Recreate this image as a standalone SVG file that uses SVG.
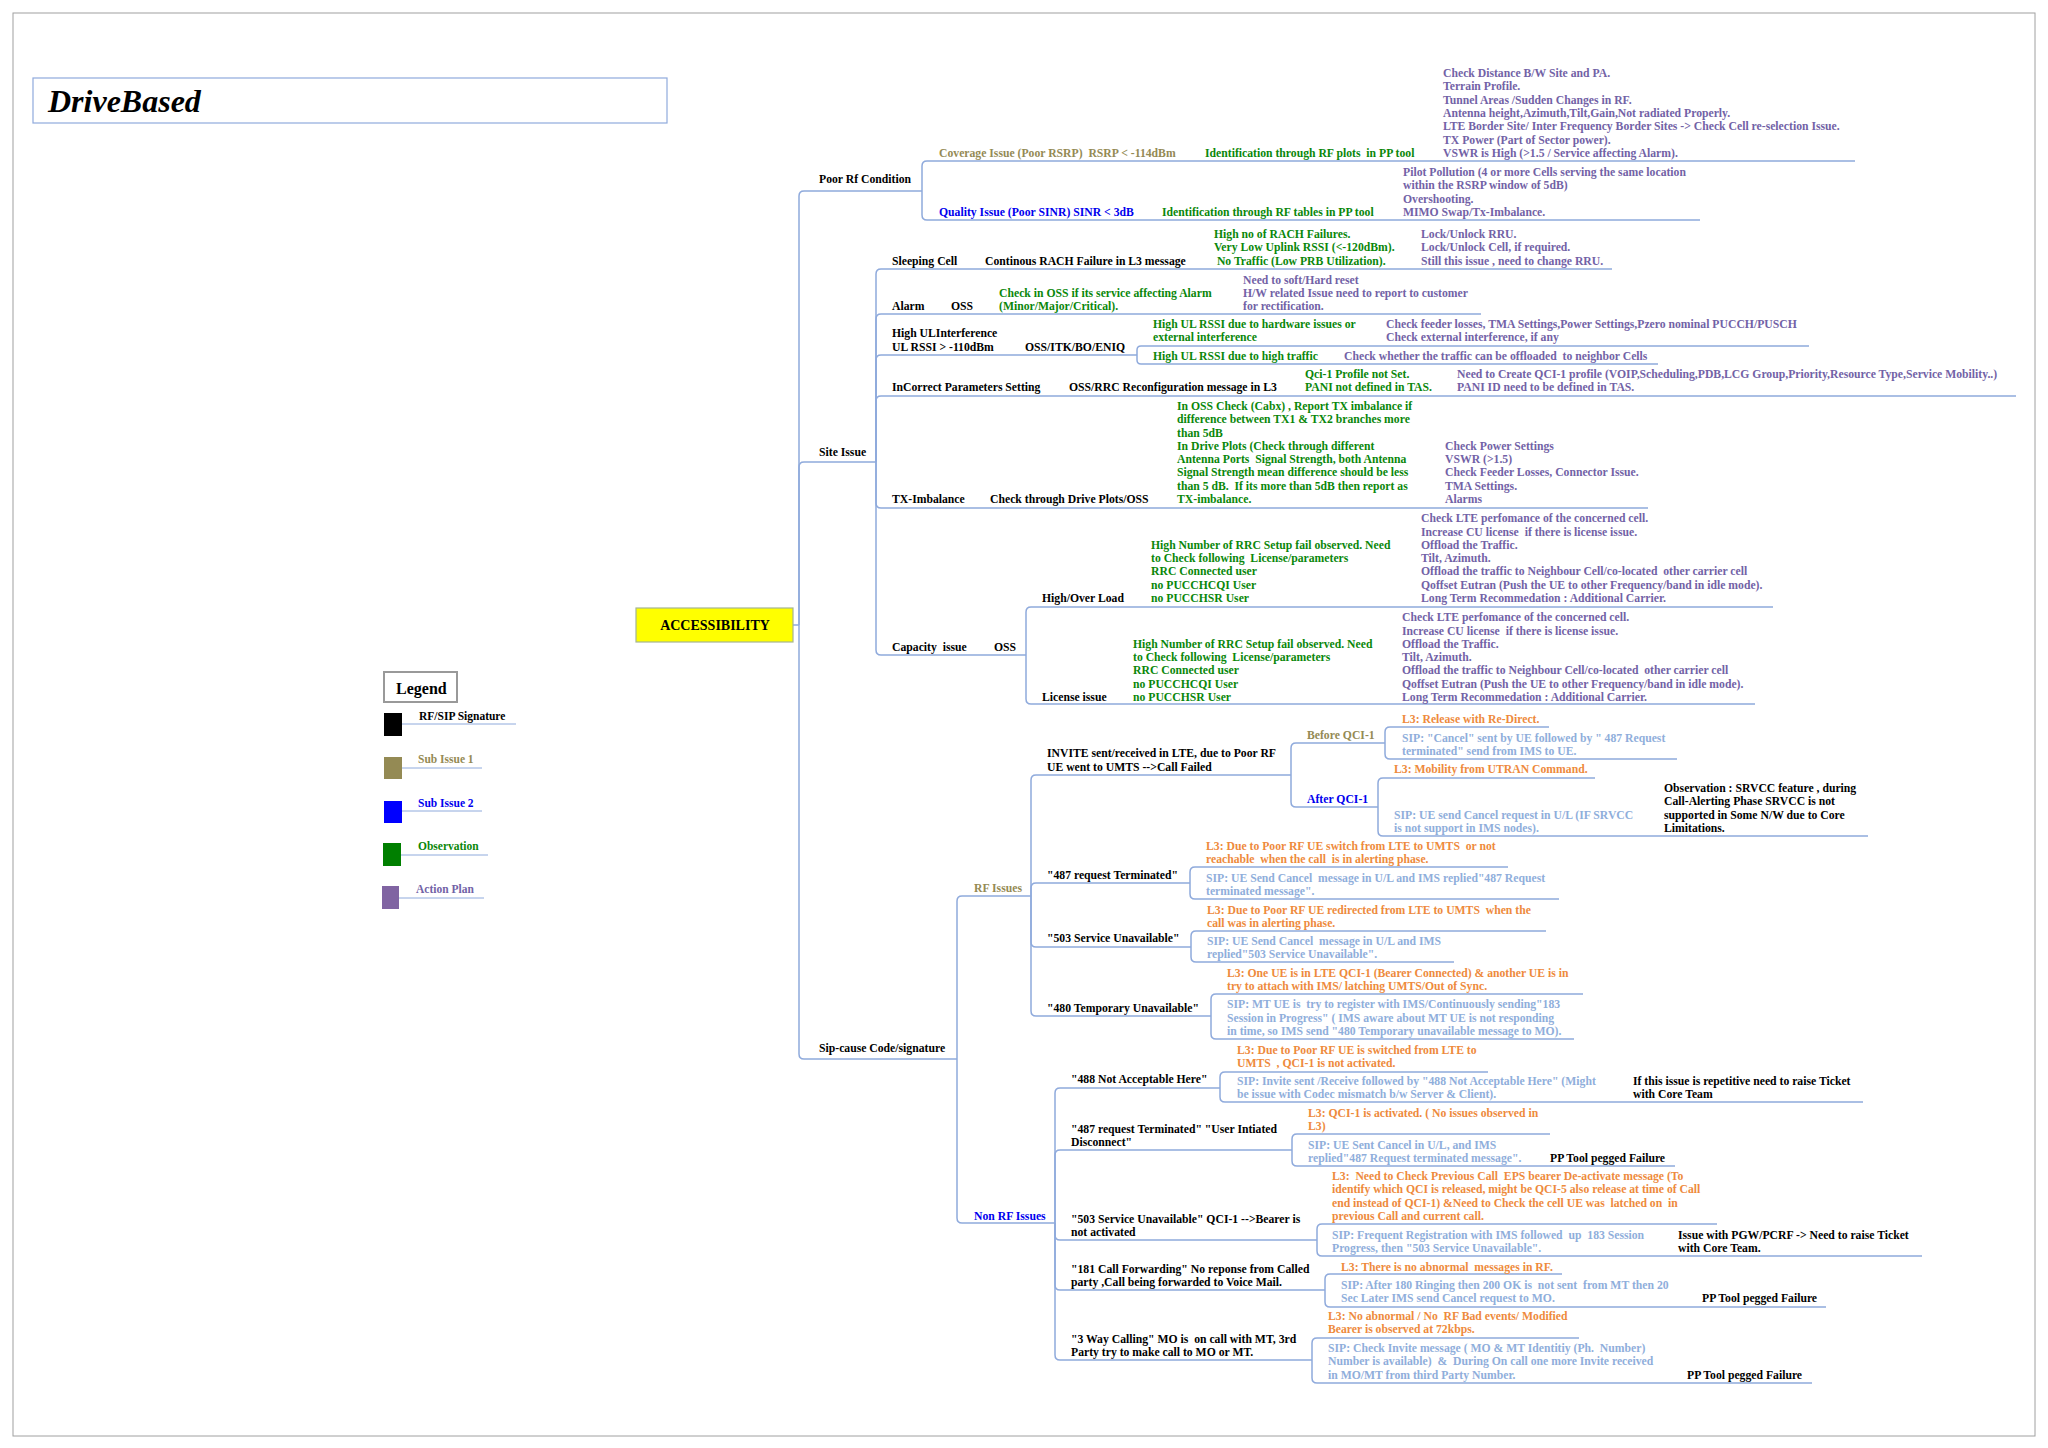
<svg xmlns="http://www.w3.org/2000/svg" width="2048" height="1448" viewBox="0 0 2048 1448" xml:space="preserve">
<style>
text{font-family:"Liberation Serif","Times New Roman",serif;font-weight:bold;font-size:11.7px;white-space:pre}
.k{fill:#000}.o{fill:#948A54}.b{fill:#0000EE}.g{fill:#0A870A}.p{fill:#7262A6}.r{fill:#EE8A3C}.s{fill:#8FAEDB}
.c path{fill:none;stroke:#8FAADC;stroke-width:1.5}
</style>
<rect x="0" y="0" width="2048" height="1448" fill="#fff"/>
<rect x="13" y="13" width="2022" height="1423" fill="none" stroke="#A0A0A0" stroke-width="1"/>

<g id="title">
<rect x="33" y="78" width="634" height="45" fill="#fff" stroke="#8FAADC" stroke-width="1.2"/>
<text x="48" y="112" style="font-size:32px;font-style:italic" class="k">DriveBased</text>
</g>

<g id="legend">
<rect x="384" y="672" width="73" height="30" fill="#fff" stroke="#999" stroke-width="2"/>
<text x="396" y="694" style="font-size:16px" class="k">Legend</text>
<g id="leg-rfsip"><rect x="384" y="713" width="18" height="23" fill="#000"/><path d="M402,724 H516" stroke="#8FAADC" fill="none"/><text x="419" y="720" style="font-size:11.5px" class="k">RF/SIP Signature</text></g>
<g id="leg-sub1"><rect x="384" y="757" width="18" height="22" fill="#948A54"/><path d="M402,768 H482" stroke="#8FAADC" fill="none"/><text x="418" y="763" style="font-size:11.5px" class="o">Sub Issue 1</text></g>
<g id="leg-sub2"><rect x="384" y="801" width="18" height="22" fill="#0000FF"/><path d="M402,811 H482" stroke="#8FAADC" fill="none"/><text x="418" y="807" style="font-size:11.5px" class="b">Sub Issue 2</text></g>
<g id="leg-obs"><rect x="383" y="843" width="18" height="23" fill="#007F00"/><path d="M401,855 H488" stroke="#8FAADC" fill="none"/><text x="418" y="850" style="font-size:11.5px" class="g">Observation</text></g>
<g id="leg-act"><rect x="382" y="886" width="17" height="23" fill="#8064A2"/><path d="M399,898 H484" stroke="#8FAADC" fill="none"/><text x="416" y="893" style="font-size:11.5px" class="p">Action Plan</text></g>
</g>

<g class="c" id="connectors">
<path d="M793,625 H799"/>
<path d="M799,625 V196 Q799,191 804,191 H922"/>
<path d="M799,625 V467 Q799,462 804,462 H876"/>
<path d="M799,625 V1054 Q799,1059 804,1059 H957"/>
<path d="M922,191 V166 Q922,161 927,161 H1855"/>
<path d="M922,191 V215 Q922,220 927,220 H1700"/>
<path d="M876,462 V274 Q876,269 881,269 H1612"/>
<path d="M876,462 V319 Q876,314 881,314 H1481"/>
<path d="M876,462 V360 Q876,355 881,355 H1137"/>
<path d="M876,462 V401 Q876,396 881,396 H2016"/>
<path d="M876,462 V503 Q876,508 881,508 H1648"/>
<path d="M876,462 V650 Q876,655 881,655 H1026"/>
<path d="M1137,355 V350 Q1137,346 1141,346 H1809"/>
<path d="M1137,355 V360 Q1137,364 1141,364 H1658"/>
<path d="M1026,655 V612 Q1026,607 1031,607 H1773"/>
<path d="M1026,655 V699 Q1026,704 1031,704 H1755"/>
<path d="M957,1059 V901 Q957,896 962,896 H1031"/>
<path d="M957,1059 V1218 Q957,1223 962,1223 H1055"/>
<path d="M1031,896 V780 Q1031,775 1036,775 H1291"/>
<path d="M1031,896 V888 Q1031,883 1036,883 H1190"/>
<path d="M1031,896 V942 Q1031,947 1036,947 H1191"/>
<path d="M1031,896 V1011 Q1031,1016 1036,1016 H1211"/>
<path d="M1291,775 V748 Q1291,743 1296,743 H1385"/>
<path d="M1291,775 V802 Q1291,807 1296,807 H1378"/>
<path d="M1385,743 V732 Q1385,727 1390,727 H1549"/>
<path d="M1385,743 V754 Q1385,759 1390,759 H1677"/>
<path d="M1378,807 V783 Q1378,778 1383,778 H1595"/>
<path d="M1378,807 V831 Q1378,836 1383,836 H1868"/>
<path d="M1190,883 V872 Q1190,867 1195,867 H1508"/>
<path d="M1190,883 V894 Q1190,899 1195,899 H1559"/>
<path d="M1191,947 V936 Q1191,931 1196,931 H1546"/>
<path d="M1191,947 V957 Q1191,962 1196,962 H1454"/>
<path d="M1211,1016 V999 Q1211,994 1216,994 H1583"/>
<path d="M1211,1016 V1034 Q1211,1039 1216,1039 H1574"/>
<path d="M1055,1223 V1093 Q1055,1088 1060,1088 H1220"/>
<path d="M1055,1223 V1155 Q1055,1150 1060,1150 H1292"/>
<path d="M1055,1223 V1235 Q1055,1240 1060,1240 H1317"/>
<path d="M1055,1223 V1285 Q1055,1290 1060,1290 H1325"/>
<path d="M1055,1223 V1355 Q1055,1360 1060,1360 H1312"/>
<path d="M1220,1088 V1077 Q1220,1072 1225,1072 H1488"/>
<path d="M1220,1088 V1097 Q1220,1102 1225,1102 H1863"/>
<path d="M1292,1150 V1139 Q1292,1134 1297,1134 H1550"/>
<path d="M1292,1150 V1161 Q1292,1166 1297,1166 H1675"/>
<path d="M1317,1240 V1229 Q1317,1224 1322,1224 H1717"/>
<path d="M1317,1240 V1251 Q1317,1256 1322,1256 H1922"/>
<path d="M1325,1290 V1279 Q1325,1274 1330,1274 H1562"/>
<path d="M1325,1290 V1302 Q1325,1307 1330,1307 H1826"/>
<path d="M1312,1360 V1343 Q1312,1338 1317,1338 H1579"/>
<path d="M1312,1360 V1378 Q1312,1383 1317,1383 H1812"/>
</g>

<g id="root">
<rect x="636" y="608" width="157" height="34" fill="#FFFF00" stroke="#A5B592" stroke-width="1.2"/>
<text x="715" y="630" text-anchor="middle" style="font-size:14px" class="k">ACCESSIBILITY</text>
</g>

<g id="poor-rf">
<text x="819" y="183" class="k">Poor Rf Condition</text>
</g>
<g id="coverage">
<text x="939" y="157" class="o">Coverage Issue (Poor RSRP)  RSRP &lt; -114dBm</text>
<text x="1205" y="157" class="g">Identification through RF plots  in PP tool</text>
<text class="p"><tspan x="1443" y="77">Check Distance B/W Site and PA.</tspan><tspan x="1443" y="90.3">Terrain Profile.</tspan><tspan x="1443" y="103.6">Tunnel Areas /Sudden Changes in RF.</tspan><tspan x="1443" y="116.9">Antenna height,Azimuth,Tilt,Gain,Not radiated Properly.</tspan><tspan x="1443" y="130.2">LTE Border Site/ Inter Frequency Border Sites -&gt; Check Cell re-selection Issue.</tspan><tspan x="1443" y="143.5">TX Power (Part of Sector power).</tspan><tspan x="1443" y="156.8">VSWR is High (&gt;1.5 / Service affecting Alarm).</tspan></text>
</g>
<g id="quality">
<text x="939" y="216" class="b">Quality Issue (Poor SINR) SINR &lt; 3dB</text>
<text x="1162" y="216" class="g">Identification through RF tables in PP tool</text>
<text class="p"><tspan x="1403" y="176">Pilot Pollution (4 or more Cells serving the same location</tspan><tspan x="1403" y="189.3">within the RSRP window of 5dB)</tspan><tspan x="1403" y="202.6">Overshooting.</tspan><tspan x="1403" y="215.9">MIMO Swap/Tx-Imbalance.</tspan></text>
</g>

<g id="site-issue">
<text x="819" y="456" class="k">Site Issue</text>
</g>
<g id="sleeping-cell">
<text x="892" y="265" class="k">Sleeping Cell</text>
<text x="985" y="265" class="k">Continous RACH Failure in L3 message</text>
<text class="g"><tspan x="1214" y="238">High no of RACH Failures.</tspan><tspan x="1214" y="251.3">Very Low Uplink RSSI (&lt;-120dBm).</tspan><tspan x="1214" y="264.6"> No Traffic (Low PRB Utilization).</tspan></text>
<text class="p"><tspan x="1421" y="238">Lock/Unlock RRU.</tspan><tspan x="1421" y="251.3">Lock/Unlock Cell, if required.</tspan><tspan x="1421" y="264.6">Still this issue , need to change RRU.</tspan></text>
</g>
<g id="alarm">
<text x="892" y="310" class="k">Alarm</text>
<text x="951" y="310" class="k">OSS</text>
<text class="g"><tspan x="999" y="297">Check in OSS if its service affecting Alarm</tspan><tspan x="999" y="310.3">(Minor/Major/Critical).</tspan></text>
<text class="p"><tspan x="1243" y="283.5">Need to soft/Hard reset</tspan><tspan x="1243" y="296.8">H/W related Issue need to report to customer</tspan><tspan x="1243" y="310.1">for rectification.</tspan></text>
</g>
<g id="high-ul">
<text class="k"><tspan x="892" y="337">High ULInterference</tspan><tspan x="892" y="351">UL RSSI &gt; -110dBm</tspan></text>
<text x="1025" y="351" class="k">OSS/ITK/BO/ENIQ</text>
<text class="g"><tspan x="1153" y="328">High UL RSSI due to hardware issues or</tspan><tspan x="1153" y="341.3">external interference</tspan></text>
<text class="p"><tspan x="1386" y="328">Check feeder losses, TMA Settings,Power Settings,Pzero nominal PUCCH/PUSCH</tspan><tspan x="1386" y="341.3">Check external interference, if any</tspan></text>
<text x="1153" y="360" class="g">High UL RSSI due to high traffic</text>
<text x="1344" y="360" class="p">Check whether the traffic can be offloaded  to neighbor Cells</text>
</g>
<g id="incorrect-params">
<text x="892" y="391" class="k">InCorrect Parameters Setting</text>
<text x="1069" y="391" class="k">OSS/RRC Reconfiguration message in L3</text>
<text class="g"><tspan x="1305" y="378">Qci-1 Profile not Set.</tspan><tspan x="1305" y="391.3">PANI not defined in TAS.</tspan></text>
<text class="p"><tspan x="1457" y="378">Need to Create QCI-1 profile (VOIP,Scheduling,PDB,LCG Group,Priority,Resource Type,Service Mobility..)</tspan><tspan x="1457" y="391.3">PANI ID need to be defined in TAS.</tspan></text>
</g>
<g id="tx-imbalance">
<text x="892" y="503" class="k">TX-Imbalance</text>
<text x="990" y="503" class="k">Check through Drive Plots/OSS</text>
<text class="g"><tspan x="1177" y="409.9">In OSS Check (Cabx) , Report TX imbalance if</tspan><tspan x="1177" y="423.2">difference between TX1 &amp; TX2 branches more</tspan><tspan x="1177" y="436.5">than 5dB</tspan><tspan x="1177" y="449.8">In Drive Plots (Check through different</tspan><tspan x="1177" y="463.1">Antenna Ports  Signal Strength, both Antenna</tspan><tspan x="1177" y="476.4">Signal Strength mean difference should be less</tspan><tspan x="1177" y="489.7">than 5 dB.  If its more than 5dB then report as</tspan><tspan x="1177" y="503">TX-imbalance.</tspan></text>
<text class="p"><tspan x="1445" y="449.8">Check Power Settings</tspan><tspan x="1445" y="463.1">VSWR (&gt;1.5)</tspan><tspan x="1445" y="476.4">Check Feeder Losses, Connector Issue.</tspan><tspan x="1445" y="489.7">TMA Settings.</tspan><tspan x="1445" y="503">Alarms</tspan></text>
</g>
<g id="capacity">
<text x="892" y="651" class="k">Capacity  issue</text>
<text x="994" y="651" class="k">OSS</text>
</g>
<g id="high-over-load">
<text x="1042" y="602" class="k">High/Over Load</text>
<text class="g"><tspan x="1151" y="548.8">High Number of RRC Setup fail observed. Need</tspan><tspan x="1151" y="562.1">to Check following  License/parameters</tspan><tspan x="1151" y="575.4">RRC Connected user</tspan><tspan x="1151" y="588.7">no PUCCHCQI User</tspan><tspan x="1151" y="602">no PUCCHSR User</tspan></text>
<text class="p"><tspan x="1421" y="522.2">Check LTE perfomance of the concerned cell.</tspan><tspan x="1421" y="535.5">Increase CU license  if there is license issue.</tspan><tspan x="1421" y="548.8">Offload the Traffic.</tspan><tspan x="1421" y="562.1">Tilt, Azimuth.</tspan><tspan x="1421" y="575.4">Offload the traffic to Neighbour Cell/co-located  other carrier cell</tspan><tspan x="1421" y="588.7">Qoffset Eutran (Push the UE to other Frequency/band in idle mode).</tspan><tspan x="1421" y="602">Long Term Recommedation : Additional Carrier.</tspan></text>
</g>
<g id="license-issue">
<text x="1042" y="701" class="k">License issue</text>
<text class="g"><tspan x="1133" y="647.8">High Number of RRC Setup fail observed. Need</tspan><tspan x="1133" y="661.1">to Check following  License/parameters</tspan><tspan x="1133" y="674.4">RRC Connected user</tspan><tspan x="1133" y="687.7">no PUCCHCQI User</tspan><tspan x="1133" y="701">no PUCCHSR User</tspan></text>
<text class="p"><tspan x="1402" y="621.2">Check LTE perfomance of the concerned cell.</tspan><tspan x="1402" y="634.5">Increase CU license  if there is license issue.</tspan><tspan x="1402" y="647.8">Offload the Traffic.</tspan><tspan x="1402" y="661.1">Tilt, Azimuth.</tspan><tspan x="1402" y="674.4">Offload the traffic to Neighbour Cell/co-located  other carrier cell</tspan><tspan x="1402" y="687.7">Qoffset Eutran (Push the UE to other Frequency/band in idle mode).</tspan><tspan x="1402" y="701">Long Term Recommedation : Additional Carrier.</tspan></text>
</g>

<g id="sip-cause">
<text x="819" y="1052" class="k">Sip-cause Code/signature</text>
</g>
<g id="rf-issues">
<text x="974" y="892" class="o">RF Issues</text>
</g>
<g id="invite">
<text class="k"><tspan x="1047" y="757">INVITE sent/received in LTE, due to Poor RF</tspan><tspan x="1047" y="770.5">UE went to UMTS --&gt;Call Failed</tspan></text>
</g>
<g id="before-qci1">
<text x="1307" y="739" class="o">Before QCI-1</text>
<text x="1402" y="723" class="r">L3: Release with Re-Direct.</text>
<text class="s"><tspan x="1402" y="742">SIP: "Cancel" sent by UE followed by " 487 Request</tspan><tspan x="1402" y="755.3">terminated" send from IMS to UE.</tspan></text>
</g>
<g id="after-qci1">
<text x="1307" y="803" class="b">After QCI-1</text>
<text x="1394" y="773" class="r">L3: Mobility from UTRAN Command.</text>
<text class="s"><tspan x="1394" y="818.5">SIP: UE send Cancel request in U/L (IF SRVCC</tspan><tspan x="1394" y="831.8">is not support in IMS nodes).</tspan></text>
<text class="k"><tspan x="1664" y="792">Observation : SRVCC feature , during</tspan><tspan x="1664" y="805.3">Call-Alerting Phase SRVCC is not</tspan><tspan x="1664" y="818.6">supported in Some N/W due to Core</tspan><tspan x="1664" y="831.9">Limitations.</tspan></text>
</g>
<g id="rf-487">
<text x="1047" y="879" class="k">"487 request Terminated"</text>
<text class="r"><tspan x="1206" y="850">L3: Due to Poor RF UE switch from LTE to UMTS  or not</tspan><tspan x="1206" y="863.3">reachable  when the call  is in alerting phase.</tspan></text>
<text class="s"><tspan x="1206" y="881.5">SIP: UE Send Cancel  message in U/L and IMS replied"487 Request</tspan><tspan x="1206" y="894.8">terminated message".</tspan></text>
</g>
<g id="rf-503">
<text x="1047" y="942" class="k">"503 Service Unavailable"</text>
<text class="r"><tspan x="1207" y="913.5">L3: Due to Poor RF UE redirected from LTE to UMTS  when the</tspan><tspan x="1207" y="926.8">call was in alerting phase.</tspan></text>
<text class="s"><tspan x="1207" y="945">SIP: UE Send Cancel  message in U/L and IMS</tspan><tspan x="1207" y="958.3">replied"503 Service Unavailable".</tspan></text>
</g>
<g id="rf-480">
<text x="1047" y="1012" class="k">"480 Temporary Unavailable"</text>
<text class="r"><tspan x="1227" y="977">L3: One UE is in LTE QCI-1 (Bearer Connected) &amp; another UE is in</tspan><tspan x="1227" y="990.3">try to attach with IMS/ latching UMTS/Out of Sync.</tspan></text>
<text class="s"><tspan x="1227" y="1008.4">SIP: MT UE is  try to register with IMS/Continuously sending"183</tspan><tspan x="1227" y="1021.7">Session in Progress" ( IMS aware about MT UE is not responding</tspan><tspan x="1227" y="1035">in time, so IMS send "480 Temporary unavailable message to MO).</tspan></text>
</g>
<g id="non-rf-issues">
<text x="974" y="1220" class="b">Non RF Issues</text>
</g>
<g id="nrf-488">
<text x="1071" y="1083" class="k">"488 Not Acceptable Here"</text>
<text class="r"><tspan x="1237" y="1053.5">L3: Due to Poor RF UE is switched from LTE to</tspan><tspan x="1237" y="1066.8">UMTS  , QCI-1 is not activated.</tspan></text>
<text class="s"><tspan x="1237" y="1085">SIP: Invite sent /Receive followed by "488 Not Acceptable Here" (Might</tspan><tspan x="1237" y="1098.3">be issue with Codec mismatch b/w Server &amp; Client).</tspan></text>
<text class="k"><tspan x="1633" y="1085">If this issue is repetitive need to raise Ticket</tspan><tspan x="1633" y="1098.3">with Core Team</tspan></text>
</g>
<g id="nrf-487">
<text class="k"><tspan x="1071" y="1133">"487 request Terminated" "User Intiated</tspan><tspan x="1071" y="1146.3">Disconnect"</tspan></text>
<text class="r"><tspan x="1308" y="1117">L3: QCI-1 is activated. ( No issues observed in</tspan><tspan x="1308" y="1130.3">L3)</tspan></text>
<text class="s"><tspan x="1308" y="1148.5">SIP: UE Sent Cancel in U/L, and IMS</tspan><tspan x="1308" y="1161.8">replied"487 Request terminated message".</tspan></text>
<text x="1550" y="1162" class="k">PP Tool pegged Failure</text>
</g>
<g id="nrf-503">
<text class="k"><tspan x="1071" y="1223">"503 Service Unavailable" QCI-1 --&gt;Bearer is</tspan><tspan x="1071" y="1236.3">not activated</tspan></text>
<text class="r"><tspan x="1332" y="1180">L3:  Need to Check Previous Call  EPS bearer De-activate message (To</tspan><tspan x="1332" y="1193.3">identify which QCI is released, might be QCI-5 also release at time of Call</tspan><tspan x="1332" y="1206.6">end instead of QCI-1) &amp;Need to Check the cell UE was  latched on  in</tspan><tspan x="1332" y="1219.9">previous Call and current call.</tspan></text>
<text class="s"><tspan x="1332" y="1238.5">SIP: Frequent Registration with IMS followed  up  183 Session</tspan><tspan x="1332" y="1251.8">Progress, then "503 Service Unavailable".</tspan></text>
<text class="k"><tspan x="1678" y="1238.5">Issue with PGW/PCRF -&gt; Need to raise Ticket</tspan><tspan x="1678" y="1251.8">with Core Team.</tspan></text>
</g>
<g id="nrf-181">
<text class="k"><tspan x="1071" y="1273">"181 Call Forwarding" No reponse from Called</tspan><tspan x="1071" y="1286.3">party ,Call being forwarded to Voice Mail.</tspan></text>
<text x="1341" y="1270.5" class="r">L3: There is no abnormal  messages in RF.</text>
<text class="s"><tspan x="1341" y="1289">SIP: After 180 Ringing then 200 OK is  not sent  from MT then 20</tspan><tspan x="1341" y="1302.3">Sec Later IMS send Cancel request to MO.</tspan></text>
<text x="1702" y="1302.3" class="k">PP Tool pegged Failure</text>
</g>
<g id="nrf-3way">
<text class="k"><tspan x="1071" y="1343">"3 Way Calling" MO is  on call with MT, 3rd</tspan><tspan x="1071" y="1356.3">Party try to make call to MO or MT.</tspan></text>
<text class="r"><tspan x="1328" y="1320">L3: No abnormal / No  RF Bad events/ Modified</tspan><tspan x="1328" y="1333.3">Bearer is observed at 72kbps.</tspan></text>
<text class="s"><tspan x="1328" y="1352">SIP: Check Invite message ( MO &amp; MT Identitiy (Ph.  Number)</tspan><tspan x="1328" y="1365.3">Number is available)  &amp;  During On call one more Invite received</tspan><tspan x="1328" y="1378.6">in MO/MT from third Party Number.</tspan></text>
<text x="1687" y="1378.6" class="k">PP Tool pegged Failure</text>
</g>
</svg>
